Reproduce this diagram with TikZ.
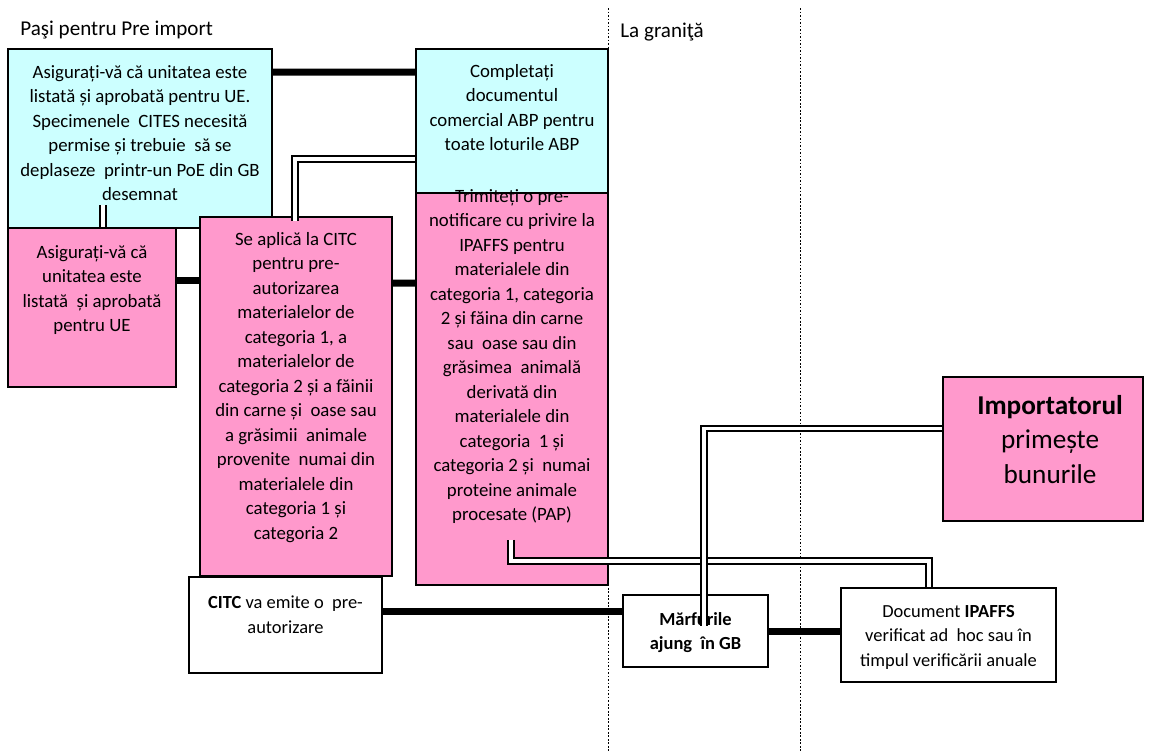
\documentclass[tikz,border=0pt]{standalone}
\usepackage{fontspec}
\setmainfont{Carlito}
\usetikzlibrary{calc, fit}

\definecolor{cyanfill}{RGB}{204,255,255}
\definecolor{pinkfill}{RGB}{255,153,204}

\begin{document}
\begin{tikzpicture}[x=0.02cm, y=-0.02cm,
    box/.style={draw, line width=1.1pt, inner sep=0pt},
    cyanbox/.style={box, fill=cyanfill},
    pinkbox/.style={box, fill=pinkfill},
    whitebox/.style={box, fill=white},
    boxtext/.style={align=center, inner sep=0pt, anchor=north, execute at begin node=\strut, font=\fontsize{10.7}{13.95}\selectfont},
    smalltext/.style={boxtext, font=\fontsize{10.5}{13.9}\selectfont},
    bigtext/.style={boxtext, font=\fontsize{15.5}{19.9}\selectfont},
    headtext/.style={inner sep=0pt, anchor=base west, font=\fontsize{12}{14}\selectfont},
    thickline/.style={line width=4pt},
    dblline/.style={double, double distance=2.2pt, line width=1.1pt},
    sepline/.style={dash pattern=on 1pt off 1pt, line width=0.5pt}]
    \useasboundingbox (0,0) rectangle (1150,751);

    % Zones
    \draw[sepline] (608,8) -- (608,751);
    \draw[sepline] (800,8) -- (800,751);
    \node[headtext] (pre) at (20,35) {Paşi pentru Pre import};
    \node[headtext] (border) at (620,37) {La graniţă};

    % Pre import boxes
    \node[cyanbox, fit={(8,49) (272,228)}] (cyan1) {};
    \node[pinkbox, fit={(8,228) (176,387)}] (pink1) {};
    \node[pinkbox, fit={(200,217) (392,576)}] (pink2) {};
    \node[pinkbox, fit={(416,193) (608,585)}] (pink3) {};
    \node[cyanbox, fit={(416,49) (608,193)}] (cyan2) {};
    \node[whitebox, fit={(189,577) (382,673)}] (citc) {};

    % At the border
    \node[whitebox, fit={(623,595) (768,667)}] (marf) {};
    \node[whitebox, fit={(841,588) (1056,682)}] (doc) {};
    \node[pinkbox, fit={(943,377) (1143,521)}] (imp) {};

    % Texts
    \node[boxtext] (cyan1t) at ($(cyan1.north)+(0,16.8)$) {Asigurați-vă că unitatea este\\listată și aprobată pentru UE.\\Specimenele\ \ CITES necesită\\permise și trebuie\ \ să se\\deplaseze\ \ printr-un PoE din GB\\desemnat};
    \node[boxtext] (cyan2t) at ($(cyan2.north)+(0,15.8)$) {Completați\\documentul\\comercial ABP pentru\\toate loturile ABP};
    \node[boxtext] (pink1t) at ($(pink1.north)+(0,17.8)$) {Asigurați-vă că\\unitatea este\\listată\ \ și aprobată\\pentru UE};
    \node[boxtext] (pink2t) at ($(pink2.north)+(0,15.8)$) {Se aplică la CITC\\pentru pre-\\autorizarea\\materialelor de\\categoria 1, a\\materialelor de\\categoria 2 și a făinii\\din carne și\ \ oase sau\\a grăsimii\ \ animale\\provenite\ \ numai din\\materialele din\\categoria 1 și\\categoria 2};
    \node[boxtext] (pink3t) at ($(pink3.north)+(0,-3.2)$) {Trimiteți o pre-\\notificare cu privire la\\IPAFFS pentru\\materialele din\\categoria 1, categoria\\2 și făina din carne\\sau\ \ oase sau din\\grăsimea\ \ animală\\derivată din\\materialele din\\categoria\ \ 1 și\\categoria 2 și\ \ numai\\proteine animale\\procesate (PAP)};
    \node[smalltext] (citct) at ($(citc.north)+(0,19.9)$) {\textbf{CITC} va emite o\ \ pre-\\autorizare};
    \node[smalltext] (marft) at ($(marf.north)+(0,17.9)$) {\textbf{Mărfurile}\\\textbf{ajung\ \ în GB}};
    \node[smalltext] (doct) at ($(doc.north)+(0,17.9)$) {Document \textbf{IPAFFS}\\verificat ad\ \ hoc sau în\\timpul verificării anuale};
    \node[bigtext] (impt) at ($(imp.north west)+(108,18.5)$) {\textbf{Importatorul}\\primește\\bunurile};

    % Thick connectors
    \draw[thickline] ($(cyan1.north east)+(0,24)$) -- ($(cyan2.north west)+(0,24)$);
    \draw[thickline] ($(pink1.north east)+(0,53)$) -- ($(pink2.north west)+(0,64)$);
    \draw[thickline] ($(pink2.north east)+(0,67)$) -- ($(pink3.north west)+(0,91)$);
    \draw[thickline] ($(citc.north east)+(0,35)$) -- ($(marf.north west)+(0,17)$);
    \draw[thickline] ($(marf.north east)+(0,37)$) -- ($(doc.north west)+(0,44)$);

    % Double connectors
    \draw[dblline] ($(pink1.north west)+(96,-22)$) -- ($(pink1.north west)+(96,0)$);
    \draw[dblline] ($(pink2.north west)+(96,5)$) |- ($(cyan2.north west)+(0,111)$);
    \draw[dblline] ($(pink3.south west)+(96,-46)$) |- ($(doc.north west)+(89,-26)$) -- ($(doc.north west)+(89,0)$);
    \draw[dblline] ($(imp.north west)+(0,52.5)$) -| ($(marf.north west)+(82,32)$);
\end{tikzpicture}
\end{document}
